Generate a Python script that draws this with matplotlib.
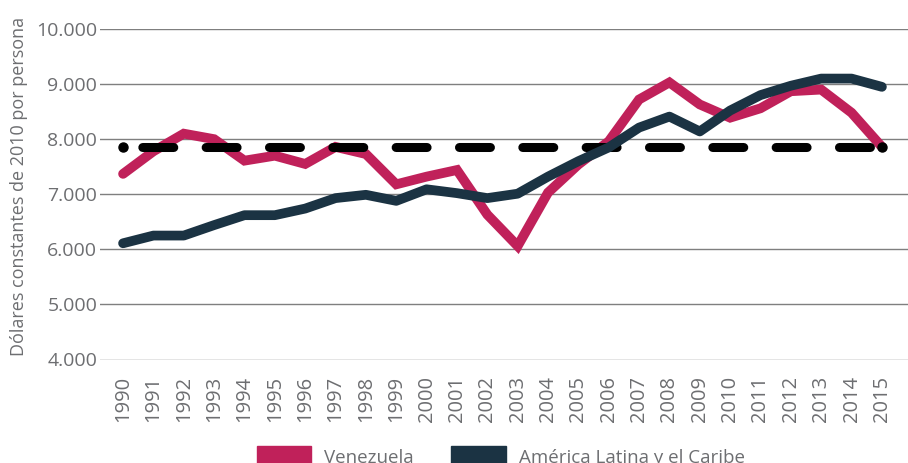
import matplotlib.pyplot as plt
from matplotlib.patches import Patch

plt.rcParams['font.family'] = ['Open Sans', 'DejaVu Sans']
plt.rcParams['lines.scale_dashes'] = False

years = list(range(1990, 2016))
venezuela = [7370, 7780, 8100, 8000, 7610, 7700, 7550, 7860, 7730, 7180,
             7320, 7440, 6630, 6060, 7030, 7540, 7960, 8720, 9030, 8630,
             8390, 8560, 8870, 8900, 8480, 7860]
alc = [6110, 6250, 6250, 6440, 6620, 6620, 6740, 6930, 6990, 6880,
       7090, 7020, 6930, 7010, 7320, 7600, 7850, 8210, 8410, 8140,
       8520, 8800, 8970, 9100, 9100, 8950]
umbral = 7850
yticks = [4000, 5000, 6000, 7000, 8000, 9000, 10000]
ytick_labels = ['4.000', '5.000', '6.000', '7.000', '8.000', '9.000', '10.000']

pink = '#c0215a'
navy = '#1b3343'
gray = '#6d6e71'

fig = plt.figure(figsize=(9.08, 4.63), dpi=100)
ax = fig.add_axes([100 / 908, 1 - 359.5 / 463, 808 / 908, 330.5 / 463])

ax.set_yticks(yticks)
ax.set_yticklabels(ytick_labels)
ax.set_ylim(4000, 10000)
ax.set_xlim(1989.24, 2015.86)
ax.set_xticks(years)
ax.set_xticklabels([str(y) for y in years], rotation=90)
ax.grid(axis='y', color='#7f7f7f', linewidth=1.0)
ax.set_axisbelow(True)

ax.plot(years, venezuela, color=pink, linewidth=7, solid_capstyle='round',
        solid_joinstyle='miter', zorder=2)
ax.plot([years[0], years[-1]], [umbral, umbral], color='black', linewidth=6.5,
        linestyle=(31.7, (22.3, 23.3)), dash_capstyle='round', zorder=3)
ax.plot([years[0], years[-1]], [umbral, umbral], linestyle='none', marker='o',
        markersize=6.5, color='black', zorder=3)
ax.plot(years, alc, color=navy, linewidth=7, solid_capstyle='round',
        solid_joinstyle='round', zorder=4)

for s in ax.spines.values():
    s.set_visible(False)
ax.tick_params(axis='both', length=0, colors=gray)
ax.tick_params(axis='y', pad=2, labelsize=14)
ax.tick_params(axis='x', pad=12, labelsize=14.5)
ax.set_ylabel('Dólares constantes de 2010 por persona', color=gray, fontsize=13)
ax.yaxis.set_label_coords(-72 / 808, (359.5 - 186.5) / 330.5)

handles = [Patch(color=pink, label='Venezuela'),
           Patch(color=navy, label='América Latina y el Caribe')]
fig.legend(handles=handles, loc='upper left', bbox_to_anchor=(249 / 908, 1 - 438 / 463),
           ncol=2, frameon=False, fontsize=13.5, labelcolor=gray,
           handlelength=2.9, handleheight=1.4, handletextpad=0.7, columnspacing=2.0,
           borderaxespad=0)

fig.savefig('out.png', dpi=100)
